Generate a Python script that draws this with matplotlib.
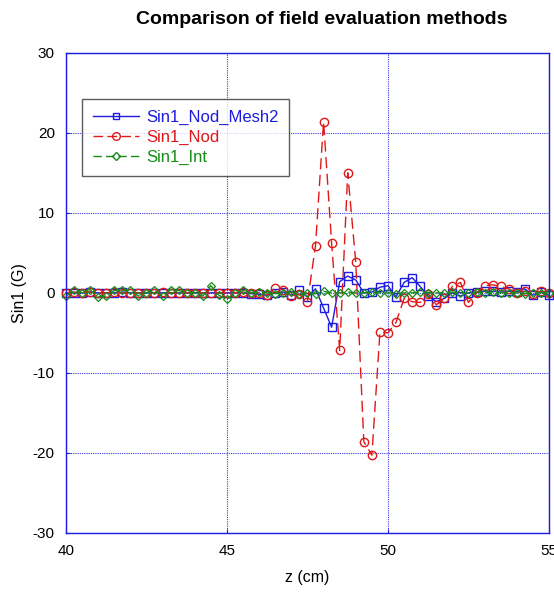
import matplotlib.pyplot as plt
from matplotlib.lines import Line2D

plt.rcParams['font.family'] = ['Liberation Sans', 'DejaVu Sans']
plt.rcParams['axes.unicode_minus'] = False

# sample positions along z (cm)
z = [40.0, 40.25, 40.5, 40.75, 41.0, 41.25, 41.5, 41.75, 42.0, 42.25,
     42.5, 42.75, 43.0, 43.25, 43.5, 43.75, 44.0, 44.25, 44.5, 44.75,
     45.0, 45.25, 45.5, 45.75, 46.0, 46.25, 46.5, 46.75, 47.0, 47.25,
     47.5, 47.75, 48.0, 48.25, 48.5, 48.75, 49.0, 49.25, 49.5, 49.75,
     50.0, 50.25, 50.5, 50.75, 51.0, 51.25, 51.5, 51.75, 52.0, 52.25,
     52.5, 52.75, 53.0, 53.25, 53.5, 53.75, 54.0, 54.25, 54.5, 54.75,
     55.0]

sin1_nod_mesh2 = [0, 0, 0, 0.1, 0, 0, 0, 0.1, 0, 0,
                  0, 0, 0, 0, 0, 0, 0, 0, 0, 0,
                  0, 0, 0, -0.1, -0.2, -0.3, 0, 0.1, -0.3, 0.3,
                  -0.5, 0.5, -1.9, -4.3, 1.4, 2.1, 1.6, 0, 0.1, 0.7,
                  0.9, -0.5, 1.3, 1.9, 0.8, -0.4, -1.1, -0.7, 0, -0.4,
                  0, 0.1, 0.2, 0.2, 0.1, 0.2, 0.1, 0.5, -0.3, 0.1,
                  -0.3]

sin1_nod = [0, 0.1, 0, 0.1, 0, 0, 0.1, 0, 0, 0,
            0, 0, 0.1, 0, 0, 0, 0, 0, 0, 0,
            0, 0, 0.1, 0, 0, -0.3, 0.6, 0.4, -0.4, -0.2,
            -1.1, 5.9, 21.4, 6.2, -7.2, 15.0, 3.8, -18.6, -20.3, -4.9,
            -5.0, -3.7, -0.7, -1.1, -1.2, -0.1, -1.5, -0.7, 0.8, 1.3,
            -1.2, 0, 0.9, 1.0, 0.8, 0.5, 0, 0.2, -0.1, 0.2,
            0]

sin1_int = [-0.4, 0.3, 0, 0.4, -0.5, -0.4, 0.3, 0.3, 0.4, -0.4,
            0, 0.3, -0.4, 0.4, 0.3, 0, 0, -0.4, 0.9, -0.3,
            -0.8, 0, 0.3, 0, 0.1, 0, -0.1, 0, 0.1, -0.2,
            0, -0.1, 0.2, 0, 0, 0.1, 0, 0, 0.1, 0,
            0, -0.1, 0, 0, 0.1, 0, 0, 0, 0.1, 0,
            0, 0.1, 0, 0.1, 0, 0, 0, -0.1, 0, 0,
            0]

x_ticks = [40, 45, 50, 55]
y_ticks = [-30, -20, -10, 0, 10, 20, 30]

blue = '#1c1ce0'
red = '#e01818'
green = '#168c16'

fig = plt.figure(figsize=(5.54, 5.94), dpi=100)
ax = fig.add_axes([0.119, 0.103, 0.872, 0.808])

ax.plot(z, sin1_nod_mesh2, color=blue, lw=1, marker='s', ms=5.5,
        mfc='none', mec=blue, mew=1, clip_on=False)
ax.plot(z, sin1_nod, color=red, lw=1, dashes=(8, 4), marker='o', ms=6,
        mfc='none', mec=red, mew=1, clip_on=False)
ax.plot(z, sin1_int, color=green, lw=1, dashes=(6, 3), marker='D', ms=4,
        mfc='none', mec=green, mew=0.9, clip_on=False)

ax.set_xlim(40, 55)
ax.set_ylim(-30, 30)
ax.set_xticks(x_ticks)
ax.set_yticks(y_ticks)
ax.tick_params(direction='in', length=3, color=blue, labelsize=11, pad=8)
ax.grid(True, color='#3a3ae6', linestyle=(0, (1, 1)), lw=0.8)
for s in ax.spines.values():
    s.set_color(blue)
    s.set_linewidth(1)

ax.set_xlabel('z (cm)', fontsize=11.5, labelpad=9)
ax.set_ylabel('Sin1 (G)', fontsize=11.5, labelpad=4)
fig.text(0.58, 0.968, 'Comparison of field evaluation methods',
         ha='center', va='center', fontsize=14, fontweight='bold')

handles = [
    Line2D([], [], color=blue, lw=1, marker='s', ms=5, mfc='none', mec=blue),
    Line2D([], [], color=red, lw=1, dashes=(7, 3), marker='o', ms=5.5,
           mfc='none', mec=red),
    Line2D([], [], color=green, lw=1, dashes=(6, 3), marker='D', ms=4,
           mfc='none', mec=green),
]
leg = ax.legend(handles, ['Sin1_Nod_Mesh2', 'Sin1_Nod', 'Sin1_Int'],
                loc='upper left', bbox_to_anchor=(0.033, 0.903),
                fontsize=12, frameon=True, fancybox=False,
                handlelength=2.8, handletextpad=0.4, borderpad=0.65,
                labelspacing=0.28, borderaxespad=0)
leg.get_frame().set_edgecolor('#333333')
leg.get_frame().set_linewidth(1)
for txt, c in zip(leg.get_texts(), [blue, red, green]):
    txt.set_color(c)

fig.savefig('out.png', dpi=100)
